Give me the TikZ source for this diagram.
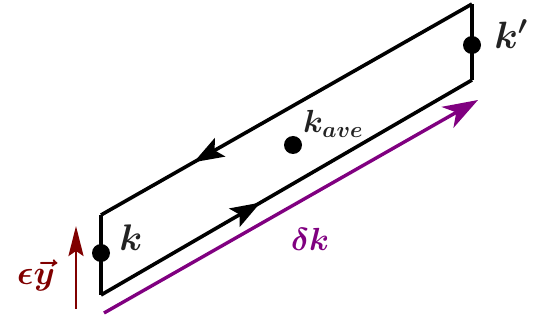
\documentclass[tikz,border=0pt]{standalone}
\usepackage{fix-cm}
\usepackage{bm}
\usetikzlibrary{arrows.meta,decorations.markings}
\definecolor{lblgray}{HTML}{222222}
\definecolor{kpurple}{HTML}{800080}
\definecolor{kred}{HTML}{800000}
\tikzset{
  edge/.style={line width=3.6pt, line join=miter},
  dotnode/.style={circle, fill=black, inner sep=0pt, minimum size=18pt},
  lbl/.style={text=lblgray, inner sep=0pt},
  midarrow/.style={postaction={decorate, decoration={markings,
      mark=at position #1 with {\arrow{Stealth[length=30pt,width=21pt,inset=6pt]}}}}}
}
\begin{document}
\begin{tikzpicture}[x=1pt,y=-1pt]
\useasboundingbox (0,0) rectangle (536,323);
\coordinate (A) at (101,215);
\coordinate (B) at (472,4);
\coordinate (C) at (472,80);
\coordinate (D) at (101,295);
\draw[edge] (A) -- (D);
\draw[edge] (B) -- (C);
\draw[edge, midarrow=0.43] (D) -- (C);
\draw[edge, midarrow=0.75] (B) -- (A);
\node[dotnode] (k) at (101,253) {};
\node[dotnode] (kp) at (472,45) {};
\node[dotnode] (kave) at (293,145) {};
\node[lbl, font=\fontsize{37}{40}\selectfont] (kl) at (131,238) {$\bm{k}$};
\node[lbl, font=\fontsize{38}{42}\selectfont] (kpl) at (511,34) {$\bm{k'}$};
\node[lbl, font=\fontsize{32}{35}\selectfont] (kavel) at (333,124) {$\bm{k_{ave}}$};
\coordinate (P1) at (104,313);
\coordinate (P2) at (478,100);
\draw[kpurple, line width=3.4pt, -{Stealth[length=35pt,width=24pt,inset=10pt]}] (P1) -- (P2);
\node[text=kpurple, inner sep=0pt, font=\fontsize{32}{35}\selectfont] (dk) at (310,239) {$\bm{\delta k}$};
\coordinate (R1) at (76,309);
\coordinate (R2) at (76,226);
\draw[kred, line width=2.8pt, -{Stealth[length=30pt,width=15pt,inset=5pt]}] (R1) -- (R2);
\node[text=kred, inner sep=0pt, font=\fontsize{34}{37}\selectfont] (ey) at (36,275) {$\bm{\epsilon\vec{y}}$};
\end{tikzpicture}
\end{document}
